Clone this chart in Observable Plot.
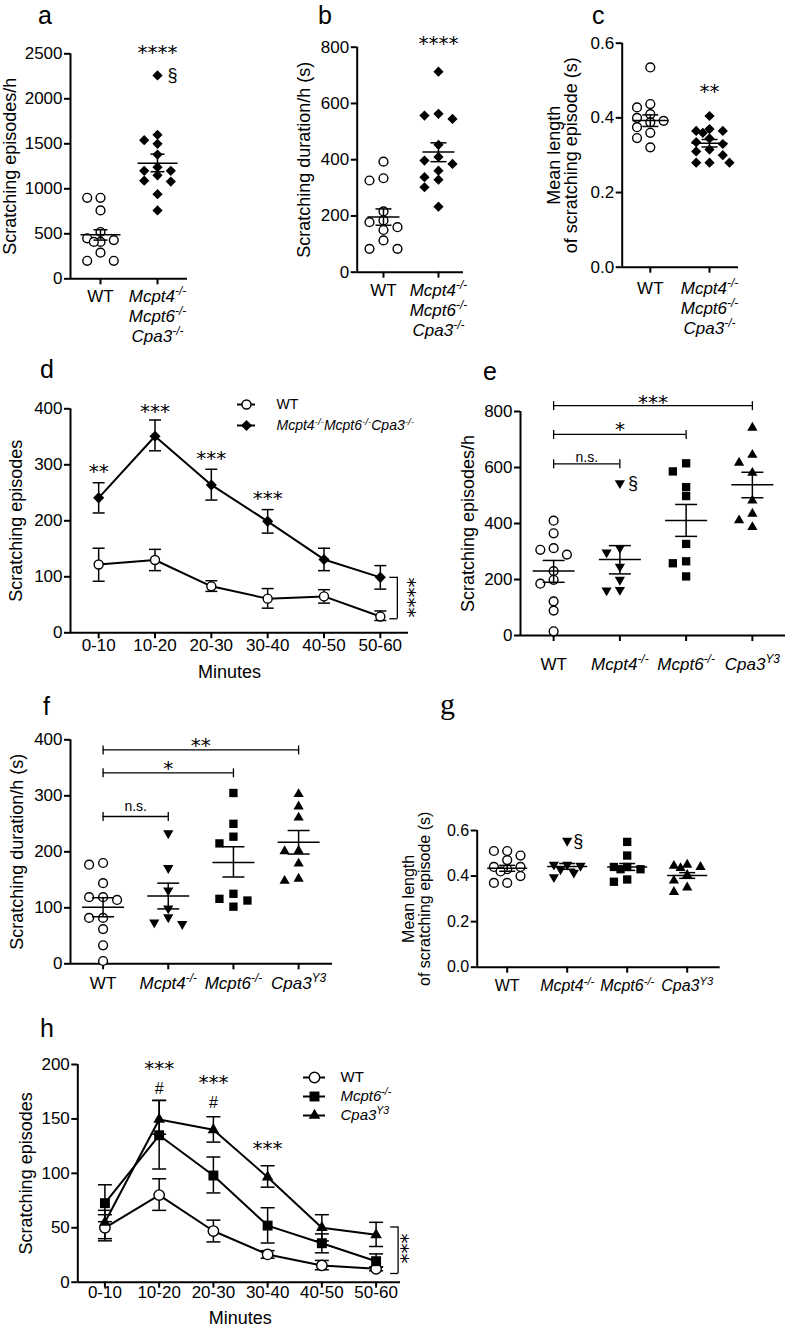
<!DOCTYPE html>
<html><head><meta charset="utf-8">
<script src="https://cdn.jsdelivr.net/npm/d3@7"></script>
<script src="https://cdn.jsdelivr.net/npm/@observablehq/plot@0.6"></script>
<style>
body{margin:0;background:#fff;}
#root{position:relative;width:787px;height:1330px;overflow:hidden;background:#fff;}
</style></head><body><div id="root"></div>
<script>
// ================= DATA =================
const groups2 = ["WT", "@Mcpt4^{-/-}\n@Mcpt6^{-/-}\n@Cpa3^{-/-}"];
const groups4 = ["WT", "@Mcpt4^{-/-}", "@Mcpt6^{-/-}", "@Cpa3^{Y3}"];
const minutes = ["0-10", "10-20", "20-30", "30-40", "40-50", "50-60"];

// a: scratching episodes/h
const aWT = [900, 900, 760, 520, 450, 430, 410, 410, 290, 200, 200];
const aKO = [2260, 1600, 1540, 1500, 1380, 1240, 1200, 1200, 1150, 1090, 1080, 940, 760];
const aMean = [489, 1285], aLo = [430, 1190], aHi = [545, 1385];
const aTicks = [0, 500, 1000, 1500, 2000, 2500];

// b: scratching duration/h (s)
const bWT = [393, 334, 326, 216, 184, 178, 160, 150, 113, 83, 83];
const bKO = [713, 563, 557, 545, 453, 410, 397, 385, 361, 338, 329, 302, 233];
const bMean = [196, 427], bLo = [167, 393], bHi = [225, 460];
const bTicks = [0, 200, 400, 600, 800];

// c: mean length of scratching episode (s)
const cWT = [0.535, 0.437, 0.428, 0.41, 0.40, 0.392, 0.388, 0.375, 0.36, 0.346, 0.321];
const cKO = [0.405, 0.37, 0.365, 0.365, 0.36, 0.345, 0.335, 0.33, 0.315, 0.31, 0.30, 0.28, 0.28, 0.28];
const cMean = [0.393, 0.332], cLo = [0.377, 0.322], cHi = [0.408, 0.342];
const cTicks = [0, 0.2, 0.4, 0.6];

// d: time course WT vs triple KO
const dWT = [122, 130, 83, 61, 65, 29], dWTlo = [92, 111, 74, 44, 53, 22], dWThi = [151, 149, 93, 79, 77, 39];
const dKO = [241, 351, 264, 199, 131, 99], dKOlo = [214, 325, 237, 178, 111, 78], dKOhi = [268, 380, 292, 220, 151, 120];
const dTicks = [0, 100, 200, 300, 400];
const dLegend = ["WT", "@Mcpt4^{-/-}Mcpt6^{-/-}Cpa3^{-/-}"];

// e: scratching episodes/h, single KOs
const eWT = [410, 365, 312, 306, 289, 230, 199, 185, 122, 89, 15];
const eM4 = [544, 313, 297, 246, 199, 163, 161];
const eM6 = [615, 586, 530, 498, 327, 265, 258, 211];
const eC3 = [742, 645, 617, 581, 482, 435, 411, 387];
const eMean = [230, 271, 411, 538], eLo = [190, 220, 354, 492], eHi = [268, 321, 468, 583];
const eTicks = [0, 200, 400, 600, 800];

// f: scratching duration/h (s), single KOs
const fWT = [180, 177, 144, 119, 119, 114, 82, 82, 62, 33, 5];
const fM4 = [233, 171, 131, 99, 83, 74, 71];
const fM6 = [305, 250, 227, 215, 125, 116, 113, 102];
const fC3 = [303, 281, 261, 202, 201, 179, 152, 148];
const fMean = [101, 121, 181, 217], fLo = [84, 98, 155, 196], fHi = [118, 144, 209, 238];
const fTicks = [0, 100, 200, 300, 400];

// g: mean length of scratching episode (s), single KOs
const gWT = [0.51, 0.51, 0.49, 0.47, 0.44, 0.44, 0.43, 0.42, 0.40, 0.37, 0.37];
const gM4 = [0.555, 0.45, 0.45, 0.445, 0.43, 0.415, 0.395];
const gM6 = [0.55, 0.49, 0.44, 0.44, 0.43, 0.43, 0.385, 0.375];
const gC3 = [0.45, 0.445, 0.44, 0.435, 0.405, 0.38, 0.35, 0.33];
const gMean = [0.434, 0.442, 0.44, 0.402], gLo = [0.421, 0.43, 0.425, 0.39], gHi = [0.447, 0.455, 0.455, 0.415];
const gTicks = [0, 0.2, 0.4, 0.6];

// h: time course WT, Mcpt6-/-, Cpa3Y3
const hWT = [50, 80, 47, 25.5, 15.4, 12.3], hWTlo = [38, 66, 37, 22, 11.4, 10.5], hWThi = [62, 95, 57, 29, 20, 14];
const hM6 = [72.6, 135, 98, 52, 35.8, 19.3], hM6lo = [55.6, 104, 82, 36, 27, 13.8], hM6hi = [89.5, 167, 115, 68.4, 44.4, 26];
const hC3 = [55, 149.5, 140, 96.5, 50, 43.5], hC3lo = [40, 136, 128.7, 87.3, 38, 32.8], hC3hi = [66, 167, 152, 107, 62, 55];
const hTicks = [0, 50, 100, 150, 200];
const hLegend = ["WT", "@Mcpt6^{-/-}", "@Cpa3^{Y3}"];

// significance annotations (data coordinates)
const aNotes = [{i: 1, y: 2567, t: "****"}, {i: 1, y: 2260, t: "§", dx: 15}];
const bNotes = [{i: 1, y: 831, t: "****"}];
const cNotes = [{i: 1, y: 0.484, t: "**"}];
const dNotes = [{i: 0, y: 296, t: "**"}, {i: 1, y: 404, t: "***"}, {i: 2, y: 320, t: "***"}, {i: 3, y: 248, t: "***"}];
const dBracket = {i: 5, y1: 99, y2: 25, t: "****", ty: 63};
const eNotes = [{i: 1, y: 544, t: "§", dx: 13}];
const eBrackets = [{from: 0, to: 3, y: 821, t: "***", ty: 851}, {from: 0, to: 2, y: 718, t: "*", ty: 754}, {from: 0, to: 1, y: 613, t: "n.s.", ty: 637}];
const fBrackets = [{from: 0, to: 3, y: 382, t: "**", ty: 399}, {from: 0, to: 2, y: 341, t: "*", ty: 357}, {from: 0, to: 1, y: 263, t: "n.s.", ty: 280}];
const gNotes = [{i: 1, y: 0.555, t: "§", dx: 11}];
const hNotes = [{i: 1, y: 201, t: "***"}, {i: 1, y: 178, t: "#"}, {i: 2, y: 188, t: "***"}, {i: 2, y: 165, t: "#"}, {i: 3, y: 127, t: "***"}];
const hBracket = {i: 5, y1: 50.7, y2: 8, t: "***", ty: 31};

// ================= RENDERING =================
const NS = "http://www.w3.org/2000/svg";
const root = document.getElementById("root");
const FONT = "'Liberation Sans', Arial, Helvetica, sans-serif";
const STARFONT = "'DejaVu Sans', sans-serif";

function lineSym(kind) {
  return {draw(ctx, size) {
    const r = Math.sqrt(size / Math.PI);
    if (kind === "h") { ctx.moveTo(-r, 0); ctx.lineTo(r, 0); }
    else if (kind === "v") { ctx.moveTo(0, -r); ctx.lineTo(0, r); }
    else { ctx.moveTo(-r, 0); ctx.lineTo(0, 0); }
  }};
}
const HLINE = lineSym("h"), VLINE = lineSym("v"), LCAP = lineSym("l");
const TRI_DOWN = {draw(ctx, size) {
  const y = -Math.sqrt(size / (Math.sqrt(3) * 3));
  ctx.moveTo(0, -2 * y); ctx.lineTo(-Math.sqrt(3) * y, y); ctx.lineTo(Math.sqrt(3) * y, y); ctx.closePath();
}};
const SYM = {
  circle: {symbol: "circle", fill: "white", stroke: "black", strokeWidth: 1.4, r: 4.4},
  diamond: {symbol: "diamond2", fill: "black", r: 4.6},
  triDown: {symbol: TRI_DOWN, fill: "black", r: 3.8},
  square: {symbol: "square", fill: "black", r: 4.7},
  triUp: {symbol: "triangle", fill: "black", r: 3.8}
};

function richify(svg) {
  const walker = document.createTreeWalker(svg, NodeFilter.SHOW_TEXT);
  const nodes = [];
  while (walker.nextNode()) nodes.push(walker.currentNode);
  for (const node of nodes) {
    let s = node.data;
    if (!s.includes("@") && !s.includes("^{")) continue;
    let italic = false;
    if (s.startsWith("@")) { italic = true; s = s.slice(1); }
    const frag = document.createDocumentFragment();
    for (const part of s.split(/(\^\{[^}]*\})/)) {
      if (!part) continue;
      const t = document.createElementNS(NS, "tspan");
      if (part.startsWith("^{")) {
        t.textContent = part.slice(2, -1);
        t.setAttribute("baseline-shift", "super");
        t.setAttribute("font-size", "70%");
      } else t.textContent = part;
      if (italic) t.setAttribute("font-style", "italic");
      frag.appendChild(t);
    }
    node.parentNode.replaceChild(frag, node);
  }
}

function place(svg, L, T) {
  svg.style.position = "absolute";
  svg.style.left = L + "px";
  svg.style.top = T + "px";
  richify(svg);
  root.appendChild(svg);
}

const STYLE = {background: "transparent", overflow: "visible", fontFamily: FONT, fontSize: "17px", color: "black"};

function render(box, frame, xdom, ydom, marks) {
  const [L, T, W, H] = box, [x0, x1, y0, y1] = frame;
  const svg = Plot.plot({
    width: W, height: H,
    marginLeft: x0 - L, marginRight: L + W - x1, marginTop: y0 - T, marginBottom: T + H - y1,
    x: {domain: xdom}, y: {domain: ydom},
    style: STYLE, marks
  });
  place(svg, L, T);
}

function frameMarks(xdom, ydom, yticks, yfmt, n, fs) {
  return [
    Plot.ruleX([xdom[0]], {x: d => d, y1: ydom[0], y2: ydom[1], strokeWidth: 2}),
    Plot.ruleY([ydom[0]], {y: d => d, x1: xdom[0], x2: xdom[1], strokeWidth: 2}),
    Plot.axisY({ticks: yticks, tickFormat: yfmt, tickSize: 6, tickPadding: 2, strokeWidth: 2, fontSize: fs, label: null}),
    Plot.axisX({ticks: d3.range(n), tickFormat: () => "", tickSize: 6, strokeWidth: 2, label: null})
  ];
}

// beeswarm-like slot assignment (in units of one column spacing)
function assignColumns(values, pxPerUnit, colW, minDist) {
  const order = values.map((v, i) => i).sort((a, b) => values[b] - values[a]);
  const slots = [0, -1, 1, -0.5, 0.5, -1.5, 1.5];
  const cols = new Array(values.length), placed = [];
  for (const i of order) {
    const py = values[i] * pxPerUnit;
    let best = null, bestD = -1;
    for (const s of slots) {
      const px = s * colW;
      const dmin = placed.reduce((m, p) => Math.min(m, Math.hypot(p.x - px, p.y - py)), Infinity);
      if (dmin >= minDist) { best = s; break; }
      if (dmin > bestD + 2) { bestD = dmin; best = s; }
    }
    cols[i] = best;
    placed.push({x: best * colW, y: py});
  }
  return cols;
}

function yLabel(c) {
  return Plot.text([c.ylabel], {frameAnchor: "left", textAnchor: "middle", rotate: -90, dx: c.ylabDx, fontSize: c.ylabFs || 18, lineHeight: 0.95, text: d => d});
}
function noteMarks(notes) {
  return (notes || []).map(n => {
    const star = /^\*+$/.test(n.t);
    return Plot.text([n], {x: "i", y: "y", text: "t", dx: n.dx || 0, dy: star ? 5 : 0,
      fontSize: star ? 20 : (n.t === "#" ? 16 : 18), fontFamily: star ? STARFONT : FONT});
  });
}

function scatter(c) {
  const [x0, x1, y0, y1] = c.frame;
  const fs = c.fs || 17;
  const pxPerY = (y1 - y0) / (c.ydom[1] - c.ydom[0]);
  const unitPerPx = (c.xdom[1] - c.xdom[0]) / (x1 - x0);
  const marks = frameMarks(c.xdom, c.ydom, c.yticks, c.yfmt, c.labels.length, fs);
  c.series.forEach(([vals, sym], gi) => {
    const cols = assignColumns(vals, pxPerY, c.colW, 8.5);
    const pts = vals.map((v, j) => ({gi, v, col: cols[j]}));
    marks.push(Plot.dot(pts, {x: p => p.gi + p.col * c.colW * unitPerPx, y: "v", ...SYM[sym]}));
  });
  const stats = c.mean.map((m, i) => ({i, m, lo: c.lo[i], hi: c.hi[i]}));
  const ls = {stroke: "black", fill: "none", strokeWidth: 1.5};
  marks.push(
    Plot.ruleX(stats, {x: "i", y1: "lo", y2: "hi", strokeWidth: 1.5}),
    Plot.dot(stats, {x: "i", y: "m", symbol: HLINE, r: c.meanHW, ...ls}),
    Plot.dot(stats, {x: "i", y: "lo", symbol: HLINE, r: c.capHW, ...ls}),
    Plot.dot(stats, {x: "i", y: "hi", symbol: HLINE, r: c.capHW, ...ls})
  );
  c.labels.forEach((lab, i) => {
    const n = lab.split("\n").length;
    marks.push(Plot.text([i], {x: d => d, frameAnchor: "bottom", text: () => lab, lineAnchor: "middle",
      lineHeight: 20 / fs, fontSize: fs, dy: c.xlabFirst + (n - 1) / 2 * 20}));
  });
  marks.push(yLabel(c));
  marks.push(...noteMarks(c.notes));
  if (c.brackets) {
    const br = c.brackets;
    marks.push(
      Plot.ruleY(br, {y: "y", x1: "from", x2: "to", strokeWidth: 1.3}),
      Plot.dot(br.flatMap(b => [{x: b.from, y: b.y}, {x: b.to, y: b.y}]), {x: "x", y: "y", symbol: VLINE, r: 4.5, stroke: "black", fill: "none", strokeWidth: 1.3})
    );
    br.forEach(b => {
      const star = /^\*+$/.test(b.t);
      marks.push(Plot.text([b], {x: d => (d.from + d.to) / 2, y: "ty", text: "t", dy: star ? 5 : 0,
        fontSize: star ? 20 : 14, fontFamily: star ? STARFONT : FONT}));
    });
  }
  render(c.box, c.frame, c.xdom, c.ydom, marks);
}

function linePanel(c) {
  const marks = frameMarks(c.xdom, c.ydom, c.yticks, d3.format("d"), minutes.length, 17);
  const ls = {stroke: "black", fill: "none", strokeWidth: 1.5};
  const rows = c.series.map(s => s.v.map((v, i) => ({i, v, lo: s.lo[i], hi: s.hi[i]})));
  rows.forEach(d => {
    marks.push(
      Plot.line(d, {x: "i", y: "v", stroke: "black", strokeWidth: 2}),
      Plot.ruleX(d, {x: "i", y1: "lo", y2: "hi", strokeWidth: 1.5}),
      Plot.dot(d, {x: "i", y: "lo", symbol: HLINE, r: c.capHW, ...ls}),
      Plot.dot(d, {x: "i", y: "hi", symbol: HLINE, r: c.capHW, ...ls})
    );
  });
  rows.forEach((d, k) => marks.push(Plot.dot(d, {x: "i", y: "v", ...SYM[c.series[k].sym], r: c.series[k].r})));
  marks.push(
    Plot.text(d3.range(minutes.length), {x: d => d, frameAnchor: "bottom", text: i => minutes[i], dy: c.xlabFirst, fontSize: 17}),
    Plot.text(["Minutes"], {frameAnchor: "bottom", text: d => d, dy: c.minDy, dx: c.minDx, fontSize: 18}),
    yLabel(c),
    ...noteMarks(c.notes)
  );
  const b = c.bracket;
  marks.push(
    Plot.ruleX([b], {x: "i", y1: "y1", y2: "y2", dx: c.brDx, strokeWidth: 1.3}),
    Plot.dot([{i: b.i, y: b.y1}, {i: b.i, y: b.y2}], {x: "i", y: "y", dx: c.brDx, symbol: LCAP, r: 8, stroke: "black", fill: "none", strokeWidth: 1.3}),
    Plot.text([b], {x: "i", y: "ty", text: "t", rotate: 90, dx: c.brTextDx, fontSize: 20, fontFamily: STARFONT})
  );
  render(c.box, c.frame, c.xdom, c.ydom, marks);
}

function legendPlot(c) {
  const [L, T, W, H] = c.box, [x0, x1, y0, y1] = c.frame;
  const rows = c.names.map((n, i) => ({n, sym: c.syms[i], r: c.rs[i]}));
  const marks = [Plot.ruleY(rows, {y: "n", strokeWidth: 2})];
  rows.forEach(r => marks.push(Plot.dot([r], {y: "n", frameAnchor: "middle", ...SYM[r.sym], r: r.r})));
  marks.push(Plot.text(rows, {y: "n", frameAnchor: "right", dx: c.textDx, textAnchor: "start", text: "n", fontSize: c.fs}));
  const svg = Plot.plot({
    width: W, height: H,
    marginLeft: x0 - L, marginRight: L + W - x1, marginTop: y0 - T, marginBottom: T + H - y1,
    y: {type: "point", domain: c.names, padding: 0, axis: null},
    style: STYLE, marks
  });
  place(svg, L, T);
}

const fmtInt = d3.format("d"), fmt1 = d3.format(".1f");

scatter({box: [0, 0, 240, 345], frame: [70, 187, 53.3, 278.3], xdom: [-0.526, 1.526], ydom: [0, 2500],
  yticks: aTicks, yfmt: fmtInt, labels: groups2, series: [[aWT, "circle"], [aKO, "diamond"]],
  mean: aMean, lo: aLo, hi: aHi, meanHW: 20, capHW: 7, colW: 13.3,
  ylabel: "Scratching episodes/h", ylabDx: -60, xlabFirst: 17, notes: aNotes});

scatter({box: [270, 0, 215, 345], frame: [356.7, 463, 46.7, 271.7], xdom: [-0.478, 1.455], ydom: [0, 800],
  yticks: bTicks, yfmt: fmtInt, labels: groups2, series: [[bWT, "circle"], [bKO, "diamond"]],
  mean: bMean, lo: bLo, hi: bHi, meanHW: 16, capHW: 8, colW: 14,
  ylabel: "Scratching duration/h (s)", ylabDx: -53, xlabFirst: 17.5, notes: bNotes});

scatter({box: [530, 0, 257, 345], frame: [621.7, 738, 42.7, 266.7], xdom: [-0.475, 1.49], ydom: [0, 0.6],
  yticks: cTicks, yfmt: fmt1, labels: groups2, series: [[cWT, "circle"], [cKO, "diamond"]],
  mean: cMean, lo: cLo, hi: cHi, meanHW: 18, capHW: 8, colW: 13.3,
  ylabel: "Mean length\nof scratching episode (s)", ylabDx: -59, xlabFirst: 20, notes: cNotes});

linePanel({box: [0, 385, 440, 310], frame: [70, 408, 408.3, 632.3], xdom: [-0.5, 5.5], ydom: [0, 400], yticks: dTicks,
  series: [{v: dWT, lo: dWTlo, hi: dWThi, sym: "circle", r: 4.5}, {v: dKO, lo: dKOlo, hi: dKOhi, sym: "diamond", r: 5}],
  capHW: 6, ylabel: "Scratching episodes", ylabDx: -54, xlabFirst: 17.7, minDy: 44.7, minDx: -10,
  notes: dNotes, bracket: dBracket, brDx: 17, brTextDx: 28});

legendPlot({box: [230, 394, 200, 41], frame: [237, 255, 404, 425], names: dLegend, syms: ["circle", "diamond"], rs: [4.5, 5], textDx: 21, fs: 14});

scatter({box: [440, 385, 347, 300], frame: [520, 785, 411, 635], xdom: [-0.5, 3.5], ydom: [0, 800],
  yticks: eTicks, yfmt: fmtInt, labels: groups4,
  series: [[eWT, "circle"], [eM4, "triDown"], [eM6, "square"], [eC3, "triUp"]],
  mean: eMean, lo: eLo, hi: eHi, meanHW: 21, capHW: 11, colW: 13.3,
  ylabel: "Scratching episodes/h", ylabDx: -52, xlabFirst: 28.5, notes: eNotes, brackets: eBrackets});

scatter({box: [0, 725, 350, 280], frame: [70, 332, 739.3, 963.3], xdom: [-0.5, 3.52], ydom: [0, 400],
  yticks: fTicks, yfmt: fmtInt, labels: groups4,
  series: [[fWT, "circle"], [fM4, "triDown"], [fM6, "square"], [fC3, "triUp"]],
  mean: fMean, lo: fLo, hi: fHi, meanHW: 21, capHW: 11, colW: 14,
  ylabel: "Scratching duration/h (s)", ylabDx: -53, xlabFirst: 18.7, brackets: fBrackets});

scatter({box: [385, 815, 402, 190], frame: [476.7, 719.7, 830, 966.7], xdom: [-0.5, 3.55], ydom: [0, 0.6],
  yticks: gTicks, yfmt: fmt1, labels: groups4, fs: 16,
  series: [[gWT, "circle"], [gM4, "triDown"], [gM6, "square"], [gC3, "triUp"]],
  mean: gMean, lo: gLo, hi: gHi, meanHW: 20, capHW: 8, colW: 13.3,
  ylabel: "Mean length\nof scratching episode (s)", ylabFs: 16, ylabDx: -60, xlabFirst: 17.5, notes: gNotes});

linePanel({box: [0, 1050, 440, 280], frame: [77.3, 400, 1064, 1281.7], xdom: [-0.5, 5.45], ydom: [0, 200], yticks: hTicks,
  series: [{v: hWT, lo: hWTlo, hi: hWThi, sym: "circle", r: 5.2}, {v: hM6, lo: hM6lo, hi: hM6hi, sym: "square", r: 5.6},
           {v: hC3, lo: hC3lo, hi: hC3hi, sym: "triUp", r: 4.3}],
  capHW: 7, ylabel: "Scratching episodes", ylabDx: -51, xlabFirst: 15.5, minDy: 41.3, minDx: 1,
  notes: hNotes, bracket: hBracket, brDx: 22, brTextDx: 25});

legendPlot({box: [296, 1067, 180, 58], frame: [303, 325, 1077, 1115], names: hLegend, syms: ["circle", "square", "triUp"], rs: [5.2, 5.6, 4.3], textDx: 15, fs: 15});

// panel letters
const letters = ["a", "b", "c", "d", "e", "f", "g", "h"];
const letterPos = [[38, 24], [318, 24], [592, 24], [40, 378], [483, 380], [43, 715], [440, 714], [40, 1037]];
const ov = document.createElementNS(NS, "svg");
ov.setAttribute("width", 787); ov.setAttribute("height", 1330);
ov.style.position = "absolute"; ov.style.left = "0px"; ov.style.top = "0px"; ov.style.pointerEvents = "none";
letters.forEach((l, k) => {
  const t = document.createElementNS(NS, "text");
  t.setAttribute("x", letterPos[k][0]); t.setAttribute("y", letterPos[k][1]);
  t.setAttribute("font-family", l === "g" ? "'Liberation Serif', serif" : "'Liberation Sans', Arial, sans-serif");
  t.setAttribute("font-size", l === "g" ? 30 : 25);
  t.textContent = l;
  ov.appendChild(t);
});
root.appendChild(ov);
</script></body></html>
